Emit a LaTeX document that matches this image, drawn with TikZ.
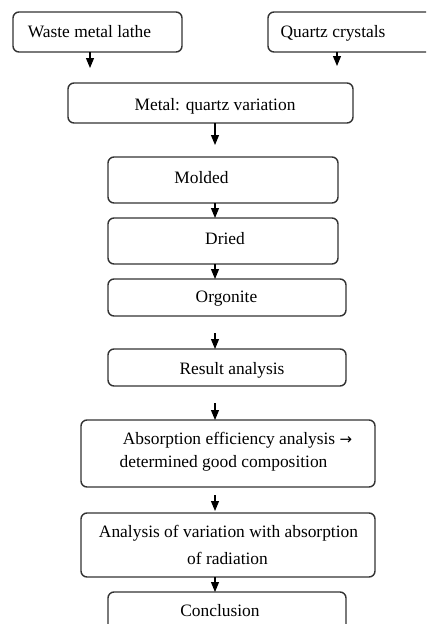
\documentclass[tikz,border=0pt]{standalone}
\usepackage{fontspec}
\setmainfont{Liberation Serif}
\newfontfamily\symfont{DejaVu Sans}
\usetikzlibrary{arrows.meta}
\begin{document}
\begin{tikzpicture}[x=1pt,y=-1pt,
  box/.style={draw=black!80, line width=1.4pt, rounded corners=6pt, inner sep=0pt, outer sep=0pt},
  txt/.style={anchor=base, inner sep=0pt, font=\fontsize{17.4}{20}\selectfont},
  arr/.style={line width=1.1pt, -{Triangle[length=10pt,width=8pt]}}]
\useasboundingbox (0,0) rectangle (426,624);
\clip (0,0) rectangle (426,624);
\fill[white] (0,0) rectangle (426,624);
% boxes
\node[box, minimum width=169pt, minimum height=40pt] (waste) at (97.5,32) {};
\node[box, minimum width=172pt, minimum height=40pt] (quartz) at (354,32) {};
\node[box, minimum width=285pt, minimum height=40pt] (metal) at (210.5,103) {};
\node[box, minimum width=230pt, minimum height=46pt] (molded) at (223,180) {};
\node[box, minimum width=230pt, minimum height=46pt] (dried) at (223,241) {};
\node[box, minimum width=238pt, minimum height=37pt] (orgonite) at (227,297.5) {};
\node[box, minimum width=238pt, minimum height=37pt] (result) at (227,367.5) {};
\node[box, minimum width=294pt, minimum height=67pt] (absorb) at (228,453.5) {};
\node[box, minimum width=294pt, minimum height=64pt] (analysis) at (228,545) {};
\node[box, minimum width=238pt, minimum height=48pt] (conclusion) at (227,616) {};
% texts
\node[txt] (t1) at (89.5,37.5) {Waste metal lathe};
\node[txt] (t2) at (333,37.5) {Quartz crystals};
\node[txt] (t3) at (215,110) {Metal: quartz variation};
\node[txt] (t4) at (201.5,183) {Molded};
\node[txt] (t5) at (225,244) {Dried};
\node[txt] (t6) at (226.5,302) {Orgonite};
\node[txt] (t7) at (232,374) {Result analysis};
\node[txt] (t8) at (237.5,444) {Absorption efficiency analysis {\symfont\fontsize{15}{18}\selectfont →}};
\node[txt] (t9) at (223.5,467) {determined good composition};
\node[txt] (t10) at (228.5,537) {Analysis of variation with absorption};
\node[txt] (t11) at (227.5,564) {of radiation};
\node[txt] (t12) at (220,616) {Conclusion};
% arrow columns
\coordinate (cA) at (90,0);
\coordinate (cB) at (337,0);
\coordinate (cC) at (215,0);
\draw[arr, shorten >=15pt] (waste.south -| cA) -- (metal.north -| cA);
\draw[arr, shorten >=17pt] (quartz.south -| cB) -- (metal.north -| cB);
\draw[arr, shorten >=12pt] (metal.south -| cC) -- (molded.north -| cC);
\draw[arr] (molded.south -| cC) -- (dried.north -| cC);
\draw[arr] (dried.south -| cC) -- (orgonite.north -| cC);
\draw[arr, shorten <=17pt] (orgonite.south -| cC) -- (result.north -| cC);
\draw[arr, shorten <=17pt] (result.south -| cC) -- (absorb.north -| cC);
\draw[arr, shorten <=8pt, shorten >=2pt] (absorb.south -| cC) -- (analysis.north -| cC);
\draw[arr] (analysis.south -| cC) -- (conclusion.north -| cC);
\end{tikzpicture}
\end{document}
